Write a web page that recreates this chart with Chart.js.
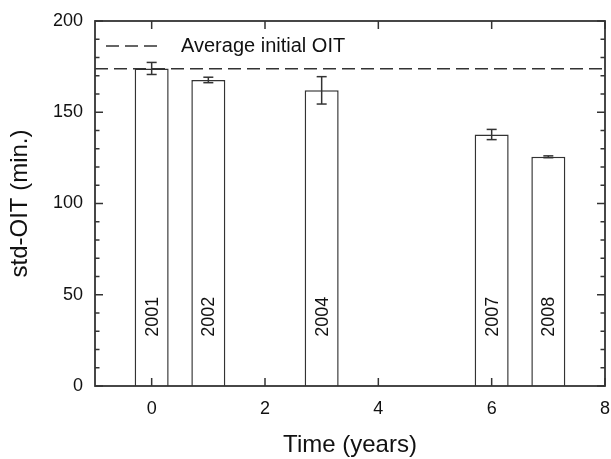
<!DOCTYPE html>
<html>
<head>
<meta charset="utf-8">
<script src="https://cdn.jsdelivr.net/npm/chart.js@4"></script>
<style>
  html, body { margin: 0; padding: 0; background: #fff; }
</style>
</head>
<body>
<canvas id="oitChart" width="611" height="459"></canvas>
<script>
// data
const years = ['2001', '2002', '2004', '2007', '2008'];
const timeYears = [0, 1, 3, 6, 7];
const stdOIT = [174, 167.7, 162, 137.8, 125.6];
const oitErr = [3.3, 1.5, 7.5, 2.8, 0.5];
const averageOIT = 173.8;
const xTicks = [0, 2, 4, 6, 8];
const yTicks = [0, 50, 100, 150, 200];
const yMinorStep = 10;

const FONT = '"Liberation Sans", Arial, sans-serif';
const INK = '#333';

// frame, inward ticks, error bars, bar labels and the legend
const decorations = {
  id: 'decorations',
  afterDatasetsDraw(chart) {
    const { ctx, chartArea: a, scales: { x, y } } = chart;
    const line = (x1, y1, x2, y2) => {
      ctx.beginPath();
      ctx.moveTo(x1, y1);
      ctx.lineTo(x2, y2);
      ctx.stroke();
    };
    ctx.save();
    ctx.strokeStyle = INK;
    ctx.lineWidth = 1.5;

    const bars = chart.getDatasetMeta(1).data;
    bars.forEach((bar, i) => {
      const hi = y.getPixelForValue(stdOIT[i] + oitErr[i]);
      const lo = y.getPixelForValue(stdOIT[i] - oitErr[i]);
      line(bar.x, hi, bar.x, lo);
      line(bar.x - 5, hi, bar.x + 5, hi);
      line(bar.x - 5, lo, bar.x + 5, lo);
    });

    ctx.lineWidth = 1.8;
    ctx.strokeRect(a.left, a.top, a.right - a.left, a.bottom - a.top);
    ctx.lineWidth = 1.5;

    for (let v = y.min; v <= y.max; v += yMinorStep) {
      const py = y.getPixelForValue(v);
      const len = yTicks.includes(v) ? 8 : 4.5;
      line(a.left, py, a.left + len, py);
      line(a.right, py, a.right - len, py);
    }
    xTicks.forEach(v => {
      const px = x.getPixelForValue(v);
      line(px, a.bottom, px, a.bottom - 8);
      line(px, a.top, px, a.top + 8);
    });

    ctx.fillStyle = '#111';
    ctx.font = '18px ' + FONT;
    ctx.textAlign = 'center';
    ctx.textBaseline = 'middle';
    bars.forEach((bar, i) => {
      ctx.save();
      ctx.translate(bar.x + 1, y.getPixelForValue(38));
      ctx.rotate(-Math.PI / 2);
      ctx.fillText(years[i], 0, 0);
      ctx.restore();
    });

    // legend
    const ly = a.top + 25;
    ctx.setLineDash([13, 6]);
    line(a.left + 11, ly, a.left + 64, ly);
    ctx.setLineDash([]);
    ctx.font = '20px ' + FONT;
    ctx.textAlign = 'left';
    ctx.fillText('Average initial OIT', a.left + 86, ly + 0.5);
    ctx.restore();
  }
};

new Chart(document.getElementById('oitChart'), {
  type: 'bar',
  data: {
    datasets: [{
      type: 'line',
      label: 'Average initial OIT',
      data: [{ x: -1, y: averageOIT }, { x: 8, y: averageOIT }],
      borderColor: INK,
      borderWidth: 1.5,
      borderDash: [13, 6],
      pointRadius: 0,
      fill: false,
      order: 0
    }, {
      label: 'std-OIT',
      data: timeYears.map((t, i) => ({ x: t, y: stdOIT[i] })),
      backgroundColor: '#fff',
      borderColor: INK,
      borderWidth: 1.5,
      barPercentage: 0.6,
      categoryPercentage: 1,
      order: 1
    }]
  },
  options: {
    responsive: false,
    animation: false,
    layout: { padding: { top: 21, right: 6, left: 0, bottom: 0 } },
    plugins: {
      legend: { display: false },
      tooltip: { enabled: false }
    },
    scales: {
      x: {
        type: 'linear',
        min: -1,
        max: 8,
        offset: false,
        grid: { display: false, drawTicks: false },
        border: { display: false },
        afterBuildTicks: s => { s.ticks = xTicks.map(v => ({ value: v })); },
        afterFit: s => { s.height = 73; s.paddingLeft = 0; s.paddingRight = 0; },
        ticks: { color: '#111', padding: 12, maxRotation: 0, font: { family: FONT, size: 18 } },
        title: {
          display: true,
          text: 'Time (years)',
          color: '#111',
          padding: { top: 0, bottom: 0 },
          font: { family: FONT, size: 24, lineHeight: 1.1 }
        }
      },
      y: {
        min: 0,
        max: 200,
        grid: { display: false, drawTicks: false },
        border: { display: false },
        afterBuildTicks: s => { s.ticks = yTicks.map(v => ({ value: v })); },
        afterFit: s => { s.width = 95; s.paddingTop = 0; s.paddingBottom = 0; },
        ticks: { color: '#111', padding: 12, font: { family: FONT, size: 18 } },
        title: {
          display: true,
          text: 'std-OIT (min.)',
          color: '#111',
          padding: { top: 7, bottom: 0 },
          font: { family: FONT, size: 24, lineHeight: 1.1 }
        }
      }
    }
  },
  plugins: [decorations]
});
</script>
</body>
</html>
